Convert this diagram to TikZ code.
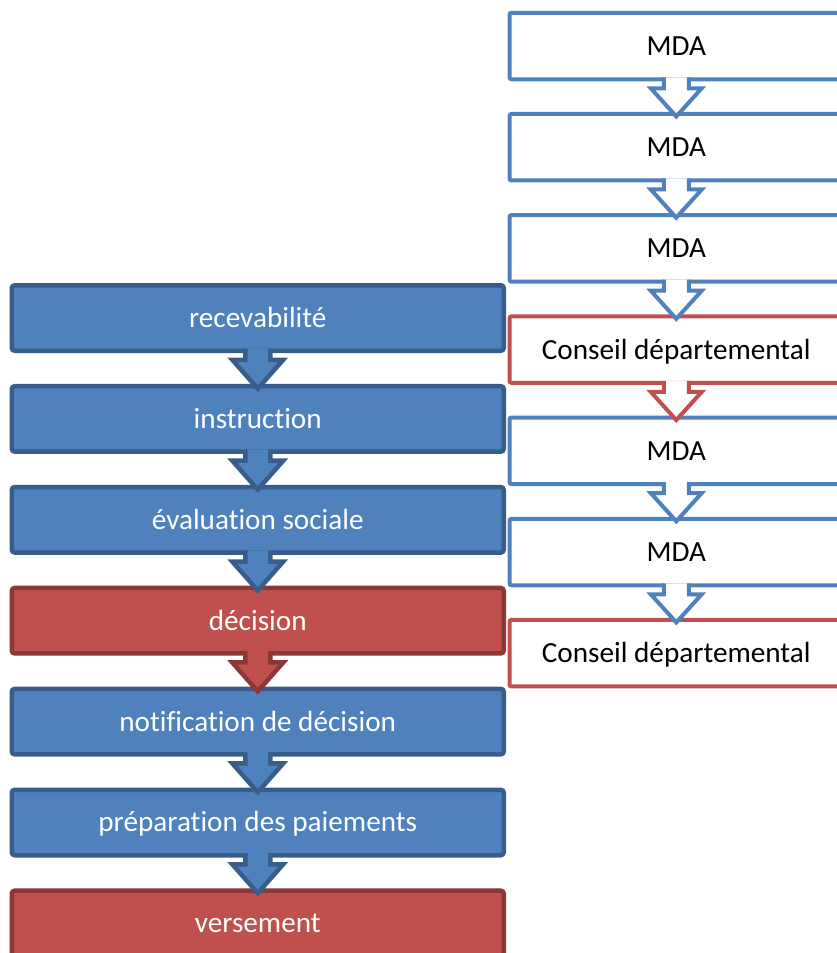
\documentclass[tikz,border=0pt]{standalone}
\usepackage{fontspec}
\setmainfont{Carlito}[Ligatures={NoCommon,NoRare,NoContextual}]
\usetikzlibrary{calc}

\definecolor{stepblue}{HTML}{4F81BD}
\definecolor{stepblueline}{HTML}{385D8A}
\definecolor{stepred}{HTML}{C0504D}
\definecolor{stepredline}{HTML}{8C3836}

\tikzset{
  boxtext/.style={font=\fontsize{29.2}{34}\selectfont, text height=18.8pt, text depth=0pt,
    inner sep=0pt, outer sep=0pt, rectangle},
  % filled boxes of the left chain
  solidbox/.style={boxtext, rounded corners=3pt, line width=4.5pt, draw=#1line, fill=#1,
    text=white, minimum width=492pt, minimum height=65.5pt},
  % outlined boxes of the right chain
  hollowbox/.style={boxtext, rounded corners=2pt, line width=4pt, draw=#1, fill=white,
    text=black, minimum width=333.5pt, minimum height=66.5pt},
  solidarrow/.style={line width=4.5pt, draw=#1line, fill=#1, miter limit=10},
  hollowarrow/.style={line width=4pt, draw=#1, fill=white, miter limit=10},
}

% block arrow from the bottom of box #2 into the top of box #3;
% the path is left open at the top so only the sides are stroked
\newcommand\stepconnector[4]{%
  \filldraw[#1]
    ($(#2.south)+(-12.5,-#4)$) -- ($(#2.south)+(-12.5,9)$) -- ($(#2.south)+(-25.5,9)$)
    -- ($(#3.north)+(0,2.5)$)
    -- ($(#2.south)+(25.5,9)$) -- ($(#2.south)+(12.5,9)$) -- ($(#2.south)+(12.5,-#4)$);
}

\begin{document}
\begin{tikzpicture}[x=1pt,y=-1pt]
  \useasboundingbox (0,0) rectangle (837,953);
  \clip (0,0) rectangle (837,953);

  % left chain
  \node[solidbox=stepblue] (l1) at (257.75,318.0) {recevabilité};
  \node[solidbox=stepblue] (l2) at (257.75,418.9) {instruction};
  \node[solidbox=stepblue] (l3) at (257.75,519.8) {évaluation sociale};
  \node[solidbox=stepred]  (l4) at (257.75,620.7) {décision};
  \node[solidbox=stepblue] (l5) at (257.75,721.6) {notification de décision};
  \node[solidbox=stepblue] (l6) at (257.75,822.5) {préparation des paiements};
  \node[solidbox=stepred]  (l7) at (257.75,923.4) {versement};

  % right chain
  \node[hollowbox=stepblue] (r1) at (676.25,46.0)  {MDA};
  \node[hollowbox=stepblue] (r2) at (676.25,147.2) {MDA};
  \node[hollowbox=stepblue] (r3) at (676.25,248.4) {MDA};
  \node[hollowbox=stepred]  (r4) at (676.25,349.6) {Conseil départemental};
  \node[hollowbox=stepblue] (r5) at (676.25,450.8) {MDA};
  \node[hollowbox=stepblue] (r6) at (676.25,552.0) {MDA};
  \node[hollowbox=stepred]  (r7) at (676.25,653.2) {Conseil départemental};

  % connectors of the left chain
  \stepconnector{solidarrow=stepblue}{l1}{l2}{2.25}
  \stepconnector{solidarrow=stepblue}{l2}{l3}{2.25}
  \stepconnector{solidarrow=stepblue}{l3}{l4}{2.25}
  \stepconnector{solidarrow=stepred}{l4}{l5}{2.25}
  \stepconnector{solidarrow=stepblue}{l5}{l6}{2.25}
  \stepconnector{solidarrow=stepblue}{l6}{l7}{2.25}

  % connectors of the right chain
  \stepconnector{hollowarrow=stepblue}{r1}{r2}{2}
  \stepconnector{hollowarrow=stepblue}{r2}{r3}{2}
  \stepconnector{hollowarrow=stepblue}{r3}{r4}{2}
  \stepconnector{hollowarrow=stepred}{r4}{r5}{2}
  \stepconnector{hollowarrow=stepblue}{r5}{r6}{2}
  \stepconnector{hollowarrow=stepblue}{r6}{r7}{2}
\end{tikzpicture}
\end{document}
